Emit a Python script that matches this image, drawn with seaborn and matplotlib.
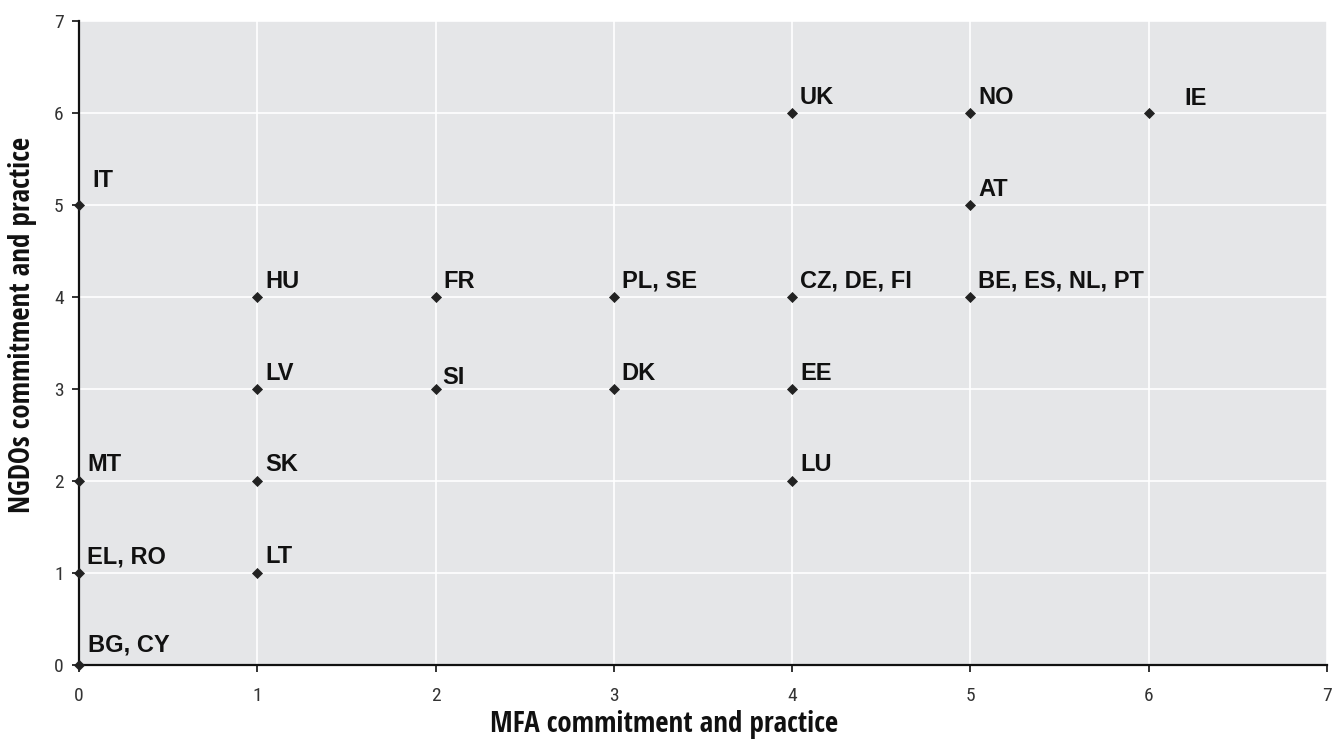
import matplotlib
matplotlib.use("Agg")
import matplotlib.pyplot as plt
from matplotlib import font_manager as fm
import seaborn as sns
import pandas as pd

labels = ["BG, CY", "EL, RO", "MT", "IT", "LT", "SK", "LV", "HU", "SI", "FR",
          "DK", "PL, SE", "LU", "EE", "CZ, DE, FI", "UK", "BE, ES, NL, PT", "AT", "NO", "IE"]
mfa = [0, 0, 0, 0, 1, 1, 1, 1, 2, 2, 3, 3, 4, 4, 4, 4, 5, 5, 5, 6]
ngdo = [0, 1, 2, 5, 1, 2, 3, 4, 3, 4, 3, 4, 2, 3, 4, 6, 4, 5, 6, 6]
ticks = [0, 1, 2, 3, 4, 5, 6, 7]

df = pd.DataFrame({"label": labels, "MFA": mfa, "NGDO": ngdo})

sns.set_theme(style="darkgrid")
plt.rcParams["font.family"] = ["Liberation Sans", "DejaVu Sans"]


def find_condensed(bold):
    cands = []
    for f in fm.fontManager.ttflist:
        nm = (f.name + " " + f.fname).lower()
        cond = ("condensed" in nm or "narrow" in nm or str(f.stretch) in ("condensed", "semi-condensed", "extra-condensed"))
        if not cond:
            continue
        w = f.weight if isinstance(f.weight, int) else {"bold": 700, "normal": 400}.get(str(f.weight), 400)
        if bold and w < 600:
            continue
        if not bold and w >= 600:
            continue
        if "italic" in nm or "oblique" in nm or f.style != "normal":
            continue
        pri = 0 if ("roboto" in nm or "liberation" in nm or "open" in nm) else 1
        cands.append((pri, abs(w - (700 if bold else 400)), f.fname))
    cands.sort()
    return cands[0][2] if cands else None


bold_c = find_condensed(True)
reg_c = find_condensed(False)
if bold_c:
    lab_fp = fm.FontProperties(fname=bold_c, size=20.8)
else:
    lab_fp = fm.FontProperties(family="Liberation Sans", weight="bold", size=17.8)
if reg_c:
    tick_fp = fm.FontProperties(fname=reg_c, size=14)
else:
    tick_fp = fm.FontProperties(family="Liberation Sans", size=12.5)

fig = plt.figure(figsize=(13.32, 7.46), dpi=100)
ax = fig.add_axes([0.0593, 0.1086, 0.9369, 0.8632])
ax.set_facecolor("#e5e6e8")

sns.scatterplot(data=df, x="MFA", y="NGDO", marker="D", s=32, color="#222222",
                edgecolor="#222222", linewidth=0, ax=ax, zorder=5, clip_on=False)

offsets = {"IT": (13, 25), "IE": (36, 15), "SI": (7, 12), "BG, CY": (9, 20)}
for lab, x, y in zip(labels, mfa, ngdo):
    dx, dy = offsets.get(lab, (8, 16))
    ax.annotate(lab, (x, y), xytext=(dx, dy), textcoords="offset pixels",
                fontsize=17, fontweight="bold", color="#111111",
                ha="left", va="center")

ax.set_xlim(0, 7)
ax.set_ylim(0, 7)
ax.set_xticks(ticks)
ax.set_yticks(ticks)
ax.set_xticklabels([str(t) for t in ticks], fontproperties=tick_fp, color="#333333")
ax.set_yticklabels([str(t) for t in ticks], fontproperties=tick_fp, color="#333333")
ax.grid(True, color="white", linewidth=1.2)
for s in ["top", "right"]:
    ax.spines[s].set_visible(False)
for s in ["left", "bottom"]:
    ax.spines[s].set_visible(True)
    ax.spines[s].set_color("#111111")
    ax.spines[s].set_linewidth(1.6)
ax.tick_params(axis="both", which="both", direction="out", length=5, width=1.2,
               color="#111111", bottom=True, left=True)
ax.tick_params(axis="x", pad=11)
ax.tick_params(axis="y", pad=6)

ax.set_xlabel("MFA commitment and practice", fontproperties=lab_fp, color="#111111")
ax.set_ylabel("NGDOs commitment and practice", fontproperties=lab_fp, color="#111111")
# label placement in figure pixels (converted to axes fractions)
x0, x1 = 79, 1327
y0, y1 = 665, 21
ax.xaxis.set_label_coords((664 - x0) / (x1 - x0), -(725 - y0) / (y0 - y1))
ax.yaxis.set_label_coords(-(x0 - 23) / (x1 - x0), (y0 - 325) / (y0 - y1))
ax.xaxis.label.set_va("center")
ax.yaxis.label.set_va("center")

fig.savefig("out.png", dpi=100)
